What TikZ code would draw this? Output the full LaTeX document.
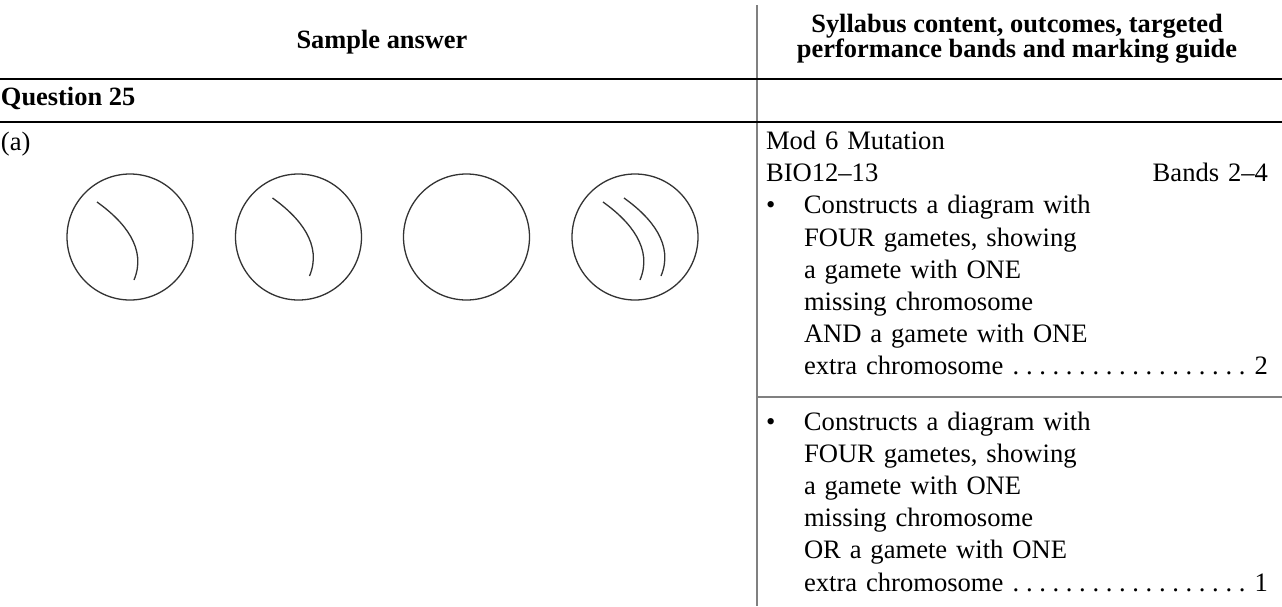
\documentclass[tikz,border=0pt]{standalone}
\usepackage{fontspec}
\setmainfont{Liberation Serif}
% spaced dot leaders running up to the mark
\newcommand\markleader{\cleaders\hbox to 13.3pt{\hss.\hss}\hfill}
\tikzset{
  pics/chromosome/.style={code={
    \draw[chromo] (-33,-35) .. controls (-5,-15) and (17,12) .. (4,43);
  }}
}
\begin{document}
\begin{tikzpicture}[x=1pt,y=-1pt,
  every node/.style={inner sep=0pt,outer sep=0pt},
  body/.style={font=\fontsize{26.6}{32.2}\selectfont},
  head/.style={font=\fontsize{26.4}{25}\selectfont\bfseries},
  thickrule/.style={line width=2.6pt,black},
  cellrule/.style={line width=1.5pt,black!50},
  gamete/.style={circle,draw=black!80,line width=1.3pt,minimum size=126pt},
  chromo/.style={draw=black!80,line width=1.3pt},
  block/.style={body,anchor=base west,text width=502pt,align=left},
]
\fill[white] (0,0) rectangle (1282,606);
\useasboundingbox (0,0) rectangle (1282,606);

% table rules
\draw[cellrule] (757,5) -- (757,606);
\draw[thickrule] (0,79) -- (1282,79);
\draw[thickrule] (0,122) -- (1282,122);
\draw[cellrule] (757,397) -- (1282,397);

% column headings
\node[head,anchor=base] (hA) at (382,48) {Sample answer};
\node[head,anchor=base] (hB1) at (1017,32.5) {Syllabus content, outcomes, targeted};
\node[head,anchor=base] (hB2) at (1017,57) {performance bands and marking guide};

\node[head,anchor=base west] (q) at (1,105) {Question 25};
\node[body,anchor=base west] (pa) at (1,150) {(a)};

% four gametes
\node[gamete] (g1) at (130,237) {};
\node[gamete] (g2) at (298.5,237) {};
\node[gamete] (g3) at (466.5,237) {};
\node[gamete] (g4) at (635,237) {};
\path (g1.center) pic {chromosome};
\path (g2.center) ++(7,-4) pic {chromosome};
\path (g4.center) ++(1,0) pic {chromosome};
\path (g4.center) ++(22,-4) pic {chromosome};

% marking guide
\node[block] (m1) at (766,149.5) {%
Mod 6 Mutation\\
\leavevmode\hbox to 502pt{BIO12--13\hfill Bands 2--4}\\
\makebox[38pt][l]{\textbullet}Constructs a diagram with\\
\hspace*{38pt}FOUR gametes, showing\\
\hspace*{38pt}a gamete with ONE\\
\hspace*{38pt}missing chromosome\\
\hspace*{38pt}AND a gamete with ONE\\
\hspace*{38pt}\hbox to 464pt{extra chromosome\markleader 2}};

\node[block] (m2) at (766,430) {%
\makebox[38pt][l]{\textbullet}Constructs a diagram with\\
\hspace*{38pt}FOUR gametes, showing\\
\hspace*{38pt}a gamete with ONE\\
\hspace*{38pt}missing chromosome\\
\hspace*{38pt}OR a gamete with ONE\\
\hspace*{38pt}\hbox to 464pt{extra chromosome\markleader 1}};
\end{tikzpicture}
\end{document}
